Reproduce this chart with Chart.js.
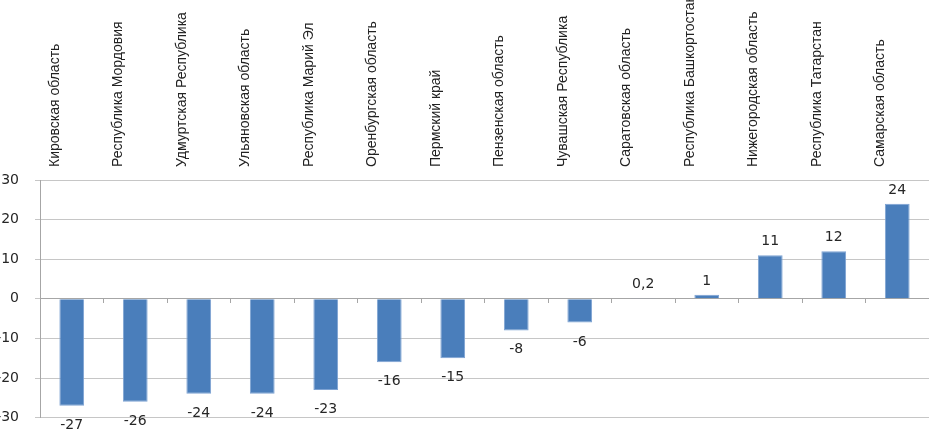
<!DOCTYPE html>
<html>
<head>
<meta charset="utf-8">
<script src="https://cdn.jsdelivr.net/npm/chart.js@4/dist/chart.umd.min.js"></script>
<style>
  html, body { margin: 0; padding: 0; background: #fff; overflow: hidden; width: 929px; height: 429px; }
  #wrap { position: absolute; left: -20px; top: 0; width: 949px; height: 442px; }
</style>
</head>
<body>
<div id="wrap"><canvas id="regionsChart"></canvas></div>
<script>
// data
var regions = [
  'Кировская область',
  'Республика Мордовия',
  'Удмуртская Республика',
  'Ульяновская область',
  'Республика Марий Эл',
  'Оренбургская область',
  'Пермский край',
  'Пензенская область',
  'Чувашская Республика',
  'Саратовская область',
  'Республика Башкортостан',
  'Нижегородская область',
  'Республика Татарстан',
  'Самарская область'
];
var changeValues = [-27, -26, -24, -24, -23, -16, -15, -8, -6, 0.2, 1, 11, 12, 24];
var yMin = -30, yMax = 30, yStep = 10;

var shiftLeft = 20; // canvas is pushed left so the minus signs of the ticks are cut off

// value labels above / below bars
var valueLabels = {
  id: 'valueLabels',
  afterDatasetsDraw: function(chart) {
    var ctx = chart.ctx;
    var meta = chart.getDatasetMeta(0);
    ctx.save();
    ctx.font = '14px "DejaVu Sans"';
    ctx.fillStyle = '#262626';
    ctx.textAlign = 'center';
    ctx.textBaseline = 'alphabetic';
    meta.data.forEach(function(bar, i) {
      var v = changeValues[i];
      var txt = String(v).replace('.', ',');
      if (v >= 0) {
        ctx.fillText(txt, bar.x, bar.y - 10);
      } else {
        ctx.fillText(txt, bar.x, bar.y + 23);
      }
    });
    ctx.restore();
  }
};

new Chart(document.getElementById('regionsChart'), {
  type: 'bar',
  data: {
    labels: regions,
    datasets: [{
      data: changeValues,
      backgroundColor: '#4a7ebb',
      borderColor: '#7ea3d3',
      borderWidth: 1,
      barPercentage: 0.39,
      categoryPercentage: 1
    }]
  },
  options: {
    responsive: true,
    maintainAspectRatio: false,
    animation: false,
    layout: { padding: 0 },
    plugins: {
      legend: { display: false },
      tooltip: { enabled: false }
    },
    scales: {
      x: {
        position: 'top',
        grid: { display: false, drawTicks: false },
        border: { display: false },
        ticks: {
          minRotation: 90,
          maxRotation: 90,
          autoSkip: false,
          padding: 13,
          color: '#222',
          font: { family: '"Liberation Sans", Arial, sans-serif', size: 14 }
        },
        afterFit: function(scale) { scale.height = 180; }
      },
      x2: {
        type: 'category',
        labels: regions,
        position: { y: 0 },
        offset: true,
        grid: { drawOnChartArea: false, drawTicks: true, tickLength: 4, offset: true, color: '#a6a6a6' },
        border: { display: true, color: '#a6a6a6' },
        ticks: { display: false },
        afterFit: function(scale) { scale.height = 0; }
      },
      y: {
        min: yMin,
        max: yMax,
        ticks: {
          stepSize: yStep,
          padding: 16,
          color: '#262626',
          font: { family: '"DejaVu Sans", Verdana, sans-serif', size: 14 }
        },
        grid: { color: '#c6c6c6', tickLength: 5 },
        border: { display: true, color: '#a6a6a6' },
        afterFit: function(scale) { scale.width = 40 + shiftLeft; }
      }
    }
  },
  plugins: [valueLabels]
}); // chart end
</script>
</body>
</html>
